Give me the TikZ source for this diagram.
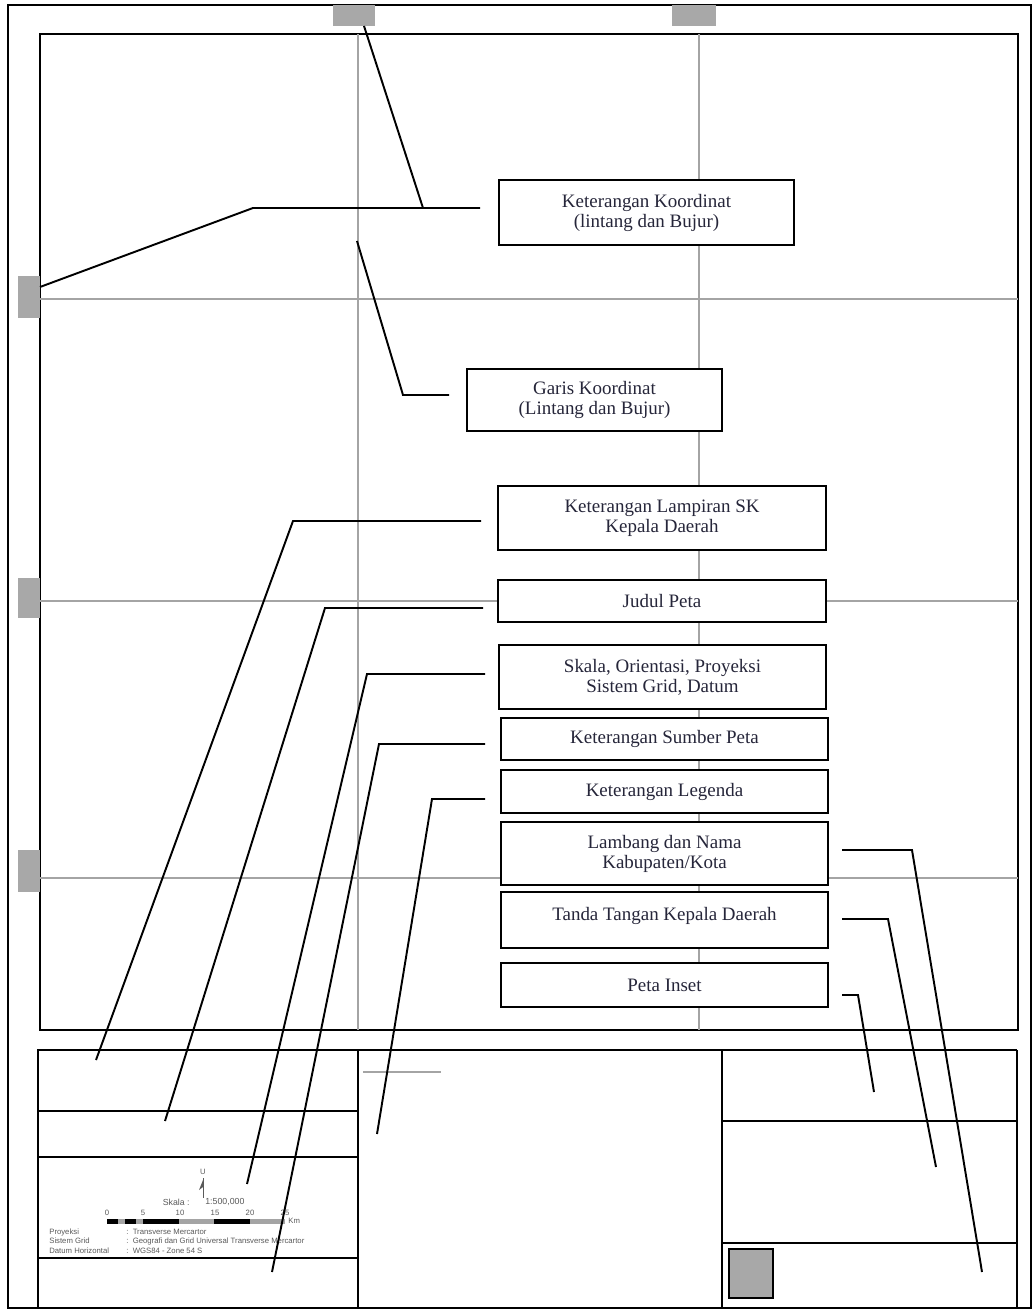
\documentclass[tikz,border=0pt]{standalone}
\usepackage{fontspec}
\setmainfont{Liberation Serif}
\newfontfamily\tinysans{Liberation Sans}
\definecolor{gridgray}{HTML}{A4A4A4}
\definecolor{sqgray}{HTML}{A8A8A8}
\definecolor{boxtext}{HTML}{26263A}
\definecolor{smalltext}{HTML}{5A5A5A}
\begin{document}
\begin{tikzpicture}[x=0.02cm,y=-0.02cm,
  box/.style={draw=black,line width=1.5pt,fill=white,inner sep=0pt,align=center,
    text=boxtext,font=\fontsize{10.8}{11.4}\selectfont},
  conn/.style={draw=black,line width=1.1pt,line join=miter},
  gridln/.style={draw=gridgray,line width=1.1pt},
  framel/.style={draw=black,line width=0.9pt},
  thickl/.style={draw=black,line width=1.5pt},
  tick/.style={fill=sqgray},
  tiny/.style={font=\tinysans\fontsize{4.4}{5}\selectfont,text=smalltext,inner sep=0pt},
  tinyb/.style={font=\tinysans\fontsize{5}{5.5}\selectfont,text=smalltext,inner sep=0pt}]
\useasboundingbox (0,0) rectangle (1034,1310);
\fill[white] (0,0) rectangle (1034,1310);

% outer frame and map frame
\draw[framel] (8,5) rectangle (1031,1308);
\draw[framel] (40,34) rectangle (1018,1030);

% grid lines
\draw[gridln] (358,34) -- (358,1030);
\draw[gridln] (699,34) -- (699,1030);
\draw[gridln] (40,299) -- (1018,299);
\draw[gridln] (40,601) -- (1018,601);
\draw[gridln] (40,878) -- (1018,878);

% grid tick squares
\fill[tick] (333,5) rectangle (375,26);
\fill[tick] (672,5) rectangle (716,26);
\fill[tick] (18,276) rectangle (40,318);
\fill[tick] (18,578) rectangle (40,618);
\fill[tick] (18,850) rectangle (40,892);

% boxes
\node[box,minimum width=5.9cm,minimum height=1.3cm] (b1) at (646.5,212.5) {Keterangan Koordinat\\(lintang dan Bujur)};
\node[box,minimum width=5.1cm,minimum height=1.24cm] (b2) at (594.5,400) {Garis Koordinat\\(Lintang dan Bujur)};
\node[box,minimum width=6.56cm,minimum height=1.28cm] (b3) at (662,518) {Keterangan Lampiran SK\\Kepala Daerah};
\node[box,minimum width=6.56cm,minimum height=0.84cm] (b4) at (662,601) {Judul Peta};
\node[box,minimum width=6.54cm,minimum height=1.28cm] (b5) at (662.5,677) {Skala, Orientasi, Proyeksi\\Sistem Grid, Datum};
\node[box,minimum width=6.54cm,minimum height=0.84cm] (b6) at (664.5,739) {Keterangan Sumber Peta};
\node[box,minimum width=6.54cm,minimum height=0.86cm] (b7) at (664.5,791.5) {Keterangan Legenda};
\node[box,minimum width=6.54cm,minimum height=1.26cm] (b8) at (664.5,853.5) {Lambang dan Nama\\Kabupaten/Kota};
\node[box,minimum width=6.54cm,minimum height=1.12cm] (b9) at (664.5,920) {\raisebox{7pt}{Tanda Tangan Kepala Daerah}};
\node[box,minimum width=6.54cm,minimum height=0.88cm] (b10) at (664.5,985) {Peta Inset};

% bottom panel
\draw[framel] (38,1050) -- (1017,1050);
\draw[framel] (38,1050) -- (38,1308);
\draw[framel] (358,1050) -- (358,1308);
\draw[framel] (722,1050) -- (722,1308);
\draw[framel] (1017,1050) -- (1017,1308);
\draw[thickl] (38,1050) rectangle (358,1157);
\draw[thickl] (38,1111) -- (358,1111);
\draw[framel] (38,1258) -- (358,1258);
\draw[framel] (722,1121) -- (1017,1121);
\draw[framel] (722,1243) -- (1017,1243);
\draw[framel,fill=sqgray] (729,1249) rectangle (773,1298);
\draw[gridln,line width=0.8pt] (363,1072) -- (441,1072);

% scale block contents
\node[tiny] (nU) at (203,1172) {U};
\draw[smalltext,line width=0.5pt] (203,1178) -- (203,1198);
\fill[smalltext] (203,1180) -- (199,1190) -- (203,1187) -- cycle;
\node[tinyb,anchor=east] (sk) at (190,1202) {Skala :};
\node[tinyb,anchor=west] (sv) at (205,1202) {1:500,000};
\foreach \xx/\lab in {107/0,143/5,180/10,215/15,250/20,285/25}
  \node[tiny] at (\xx,1213) {\lab};
\fill[gridgray] (107,1219) rectangle (285,1224);
\fill[black] (107,1219) rectangle (118,1224);
\fill[black] (125,1219) rectangle (136,1224);
\fill[black] (143,1219) rectangle (179,1224);
\fill[black] (214,1219) rectangle (250,1224);
\node[tiny,anchor=west] (km) at (288,1221) {Km};
\node[tiny,anchor=west] (p1) at (49,1232) {Proyeksi};
\node[tiny,anchor=west] (p2) at (49,1241) {Sistem Grid};
\node[tiny,anchor=west] (p3) at (49,1251) {Datum Horizontal};
\node[tiny,anchor=west] (v1) at (126,1232) {:\ \ Transverse Mercartor};
\node[tiny,anchor=west] (v2) at (126,1241) {:\ \ Geografi dan Grid Universal Transverse Mercartor};
\node[tiny,anchor=west] (v3) at (126,1251) {:\ \ WGS84 - Zone 54 S};

% connector coordinates
\coordinate (s1) at (480,208); \coordinate (k1) at (253,208); \coordinate (t1) at (40,287);
\coordinate (j1) at (423,208); \coordinate (u1) at (364,26);
\coordinate (s2) at (449,395); \coordinate (k2) at (403,395); \coordinate (t2) at (357,241);
\coordinate (s3) at (481,521); \coordinate (k3) at (293,521); \coordinate (t3) at (96,1060);
\coordinate (s4) at (483,608); \coordinate (k4) at (325,608); \coordinate (t4) at (165,1121);
\coordinate (s5) at (485,674); \coordinate (k5) at (367,674); \coordinate (t5) at (247,1184);
\coordinate (s6) at (485,744); \coordinate (k6) at (379,744); \coordinate (t6) at (272,1272);
\coordinate (s7) at (485,799); \coordinate (k7) at (432,799); \coordinate (t7) at (377,1134);
\coordinate (s8) at (842,850); \coordinate (k8) at (912,850); \coordinate (t8) at (982,1272);
\coordinate (s9) at (842,919); \coordinate (k9) at (888,919); \coordinate (t9) at (936,1167);
\coordinate (s10) at (842,995); \coordinate (k10) at (858,995); \coordinate (t10) at (874,1092);

% connectors
\draw[conn] (s1) -- (k1) -- (t1);
\draw[conn] (j1) -- (u1);
\draw[conn] (s2) -- (k2) -- (t2);
\draw[conn] (s3) -- (k3) -- (t3);
\draw[conn] (s4) -- (k4) -- (t4);
\draw[conn] (s5) -- (k5) -- (t5);
\draw[conn] (s6) -- (k6) -- (t6);
\draw[conn] (s7) -- (k7) -- (t7);
\draw[conn] (s8) -- (k8) -- (t8);
\draw[conn] (s9) -- (k9) -- (t9);
\draw[conn] (s10) -- (k10) -- (t10);
\end{tikzpicture}
\end{document}
